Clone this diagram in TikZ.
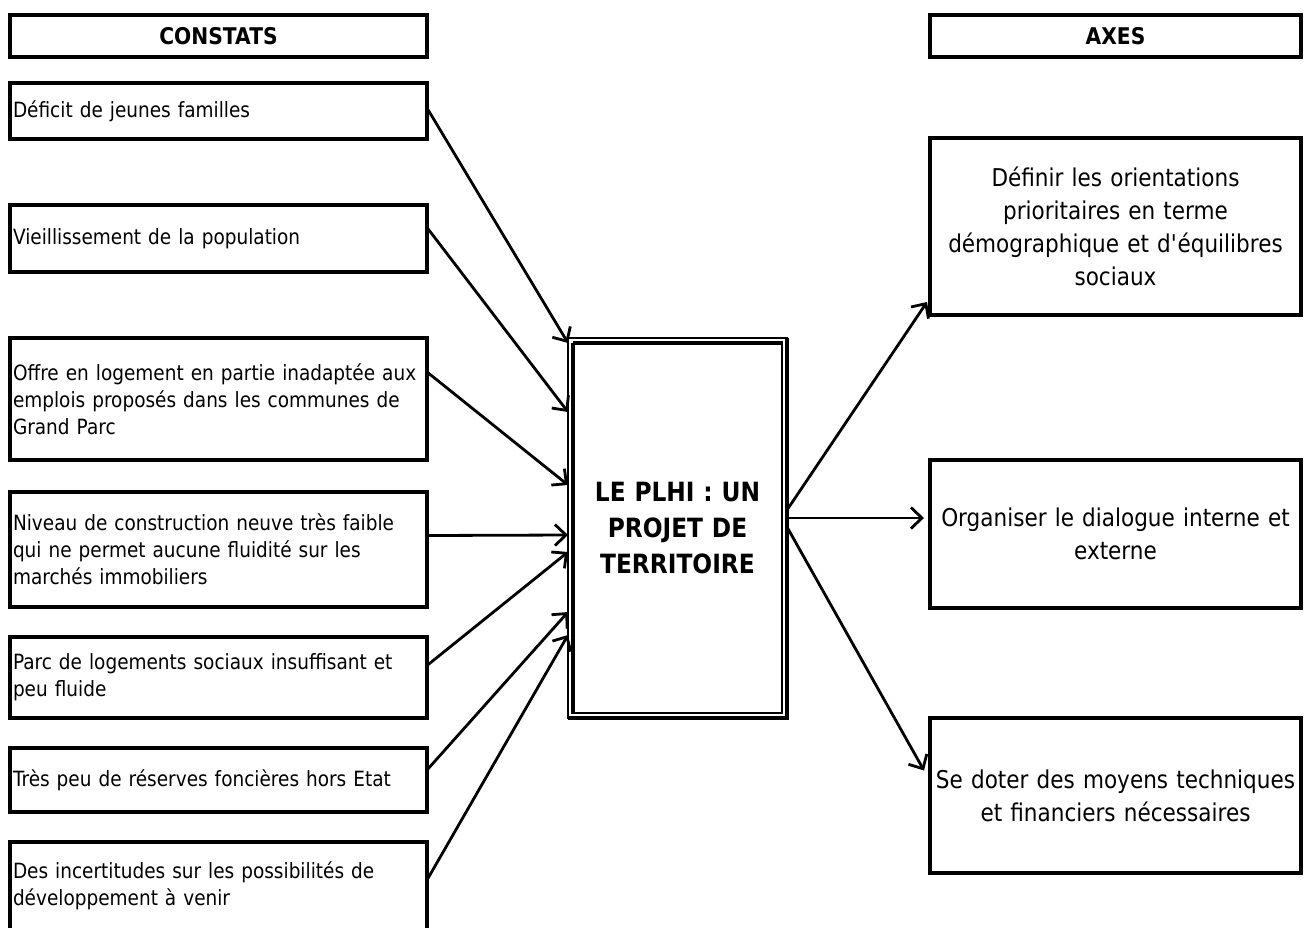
\documentclass[tikz,border=0pt]{standalone}
\usepackage{fontspec}
\setmainfont{DejaVu Sans}[FakeStretch=0.88]
\usetikzlibrary{arrows.meta,calc}
\begin{document}
\begin{tikzpicture}[x=1pt,y=-1pt,
  boxbase/.style={draw,line width=3.2pt,rectangle,anchor=north west,inner sep=0pt,outer sep=0pt},
  headbox/.style={boxbase,line width=4pt,font={\fontsize{23}{27}\selectfont\bfseries}},
  leftbox/.style={boxbase,minimum width=417pt,text width=411pt,inner xsep=3pt,align=left,
     font={\fontsize{21}{27}\selectfont}},
  rightbox/.style={boxbase,minimum width=371pt,text width=369pt,inner xsep=1pt,align=center,
     font={\fontsize{24.5}{33}\selectfont}},
  centerbox/.style={boxbase,line width=1.5pt,minimum width=219pt,minimum height=380pt,text width=205pt,
     align=center,font={\fontsize{26.5}{36}\selectfont\bfseries}},
  arr/.style={line width=2.8pt,-{Straight Barb[length=11pt,width=21pt,line width=2.8pt]}}
]
\useasboundingbox (0,0) rectangle (1308,927);
\fill[white] (0,0) rectangle (1308,927);

% headers
\node[headbox,minimum width=417pt,minimum height=42pt] (h1) at (10,15) {CONSTATS};
\node[headbox,minimum width=371pt,minimum height=42pt] (h2) at (930,15) {AXES};

% left boxes
\node[leftbox,minimum height=56pt] (d1) at (10,83) {Déficit de jeunes familles};
\node[leftbox,minimum height=67pt] (d2) at (10,205) {Vieillissement de la population};
\node[leftbox,minimum height=122pt] (d3) at (10,338) {Offre en logement en partie inadaptée aux\\emplois proposés dans les communes de\\Grand Parc};
\node[leftbox,minimum height=115pt] (d4) at (10,492) {Niveau de construction neuve très faible\\qui ne permet aucune fluidité sur les\\marchés immobiliers};
\node[leftbox,minimum height=81pt] (d5) at (10,637) {Parc de logements sociaux insuffisant et\\peu fluide};
\node[leftbox,minimum height=64pt] (d6) at (10,748) {Très peu de réserves foncières hors Etat};
\node[leftbox,minimum height=88pt] (d7) at (10,842) {Des incertitudes sur les possibilités de\\développement à venir};

% centre
\node[centerbox] (c) at (568,338) {LE PLHI : UN\\PROJET DE\\TERRITOIRE};
\draw[line width=3.2pt] ([shift={(5pt,-5pt)}]c.north west) -- ([shift={(5pt,4pt)}]c.south west);
\draw[line width=3.2pt] ([shift={(5pt,-5pt)}]c.north west) -- ([shift={(-4pt,-5pt)}]c.north east);
\draw[line width=3.2pt] (c.north east) -- (c.south east) -- (c.south west);
\draw[line width=1.2pt] ([shift={(-5pt,-5pt)}]c.north east) -- ([shift={(-5pt,5pt)}]c.south east) -- ([shift={(5pt,5pt)}]c.south west);

% right boxes
\node[rightbox,minimum height=177pt] (a1) at (930,138) {Définir les orientations\\prioritaires en terme\\démographique et d\textquotesingle équilibres\\sociaux};
\node[rightbox,minimum height=148pt] (a2) at (930,460) {Organiser le dialogue interne et\\externe};
\node[rightbox,minimum height=155pt] (a3) at (930,718) {Se doter des moyens techniques\\et financiers nécessaires};

% arrows left -> centre
\draw[arr] ([yshift=3pt]d1.east) -- ([yshift=185pt]c.west);
\draw[arr] ([yshift=11pt]d2.east) -- ([yshift=116pt]c.west);
\draw[arr] ([yshift=27pt]d3.east) -- ([yshift=43pt]c.west);
\draw[arr] ([yshift=14pt]d4.east) -- ([yshift=-7pt]c.west);
\draw[arr] ([yshift=12pt]d5.east) -- ([yshift=-24pt]c.west);
\draw[arr] ([yshift=10pt]d6.east) -- ([yshift=-84pt]c.west);
\draw[arr] ([yshift=6pt]d7.east) -- ([yshift=-107pt]c.west);

% arrows centre -> right
\draw[arr] ([yshift=18pt]c.east) -- ([shift={(-3pt,13pt)}]a1.south west);
\draw[arr] ([yshift=10pt]c.east) -- ([shift={(-6pt,16pt)}]a2.west);
\draw[arr] ([yshift=1pt]c.east) -- ([shift={(-6pt,25pt)}]a3.west);
\end{tikzpicture}
\end{document}
